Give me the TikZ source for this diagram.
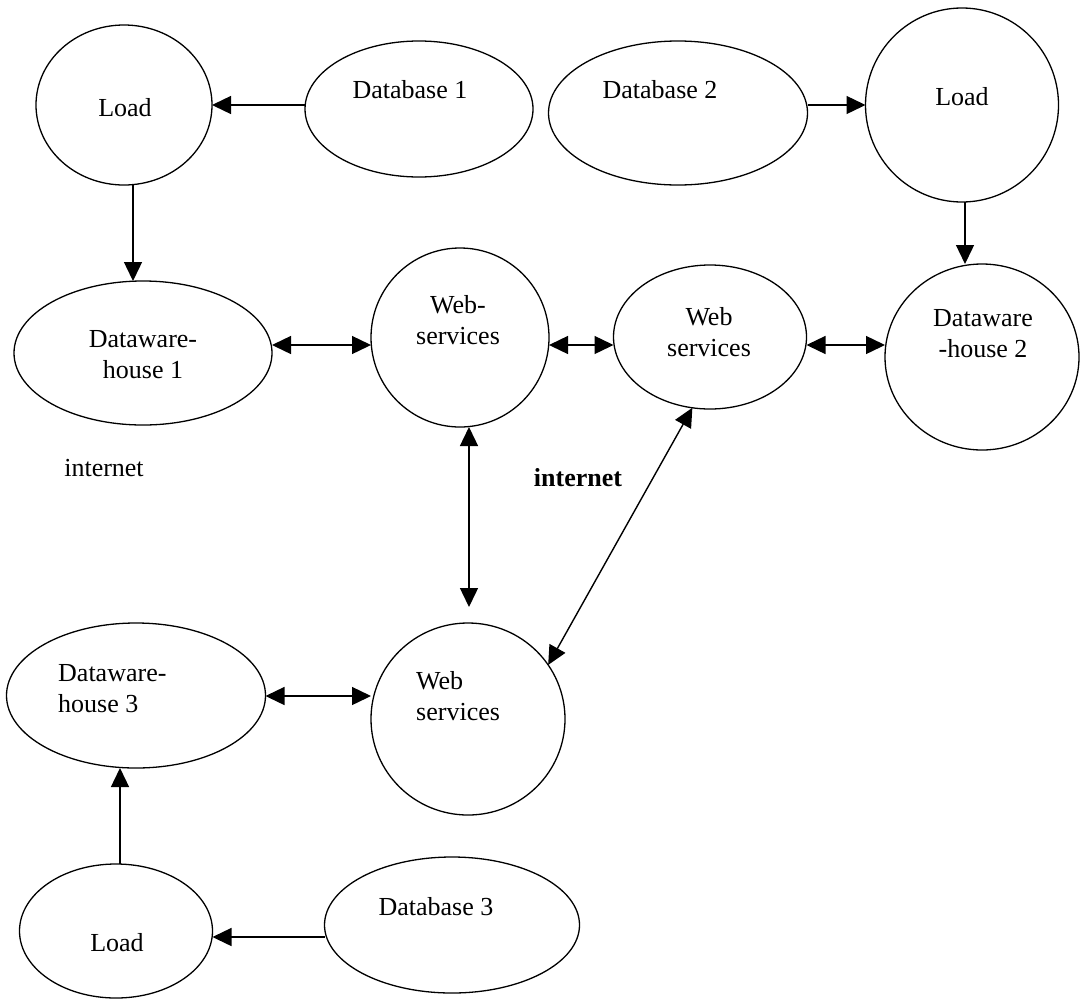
\documentclass[tikz,border=0pt]{standalone}
\usepackage{fontspec}
\setmainfont{Liberation Serif}
\usetikzlibrary{shapes.geometric,arrows.meta,calc}
\begin{document}
\begin{tikzpicture}[x=1pt,y=-1pt,
  oval/.style={draw, line width=1.3pt, shape=ellipse, inner sep=0pt, outer sep=0pt},
  lbl/.style={font=\fontsize{26}{31}\selectfont, inner sep=0pt, align=center},
  lbll/.style={font=\fontsize{26}{31}\selectfont, inner sep=0pt, align=left, anchor=west},
  tip/.tip={Triangle[length=19pt,width=18pt]},
  arr/.style={line width=1.4pt, -tip},
  dbl/.style={line width=1.4pt, tip-tip},
]
\useasboundingbox (0,0) rectangle (1086,999);
\fill[white] (0,0) rectangle (1086,999);

% ellipses
\node[oval, minimum width=176pt, minimum height=160pt] (LoadTL) at (124,105) {};
\node[oval, minimum width=228pt, minimum height=136pt] (DB1) at (419,109) {};
\node[oval, minimum width=259pt, minimum height=144pt] (DB2) at (678,113) {};
\node[oval, minimum width=193pt, minimum height=194pt] (LoadTR) at (962,105) {};
\node[oval, minimum width=258pt, minimum height=144pt] (DW1) at (143,353) {};
\node[oval, minimum width=178pt, minimum height=179pt] (WS1) at (460,337.5) {};
\node[oval, minimum width=193pt, minimum height=144pt] (WS2) at (710,337) {};
\node[oval, minimum width=194pt, minimum height=186pt] (DW2) at (982,357) {};
\node[oval, minimum width=194pt, minimum height=192pt] (WS3) at (468,719) {};
\node[oval, minimum width=259pt, minimum height=145pt] (DW3) at (136,695.5) {};
\node[oval, minimum width=193pt, minimum height=134pt] (LoadB) at (116,931) {};
\node[oval, minimum width=255pt, minimum height=136pt] (DB3) at (452,925) {};

% texts
\node[lbl] (tLoadTL) at (125,108) {Load};
\node[lbl] (tDB1) at (410,90) {Database 1};
\node[lbl] (tDB2) at (660,90) {Database 2};
\node[lbl] (tLoadTR) at (962,97) {Load};
\node[lbl] (tDW1) at (143,354.5) {Dataware-\\house 1};
\node[lbl] (tWS1) at (458,320.5) {Web-\\services};
\node[lbl] (tWS2) at (709,332) {Web\\services};
\node[lbl] (tDW2) at (983,334) {Dataware\\-house 2};
\node[lbll] (tWS3) at (416,696) {Web\\services};
\node[lbll] (tDW3) at (58,689) {Dataware-\\house 3};
\node[lbl] (tLoadB) at (117,943) {Load};
\node[lbl] (tDB3) at (436,907) {Database 3};
\node[lbl] (inet1) at (104,468) {internet};
\node[lbl, font=\fontsize{26}{31}\selectfont\bfseries] (inet2) at (578,478) {internet};

% helper levels
\coordinate (rowB) at (0,345);
\coordinate (rowC) at (0,696);
\coordinate (rowD) at (0,937);
\coordinate (colA) at (133,0);
\coordinate (colC) at (469,0);
\coordinate (colD) at (120,0);

% connectors
\draw[arr] (DB1.west |- LoadTL.east) -- (LoadTL.east);
\draw[arr] (DB2.east |- LoadTR.west) -- (LoadTR.west);
\draw[arr] (LoadTL.south -| colA) -- (DW1.north -| colA);
\draw[arr] ($(LoadTR.south)+(3,0)$) -- ($(LoadTR.south |- DW2.north)+(3,0)$);
\draw[dbl] (DW1.east |- rowB) -- (WS1.west |- rowB);
\draw[dbl] (WS1.east |- rowB) -- (WS2.west |- rowB);
\draw[dbl] (WS2.east |- rowB) -- (DW2.west |- rowB);
\draw[dbl] (WS1.south -| colC) -- ($(WS3.north -| colC)+(0,-16)$);
\draw[dbl] (WS3.34) -- (WS2.256);
\draw[dbl] (DW3.east |- rowC) -- (WS3.west |- rowC);
\draw[arr] (LoadB.north -| colD) -- (DW3.south -| colD);
\draw[arr] (DB3.west |- rowD) -- (LoadB.east |- rowD);
\end{tikzpicture}
\end{document}
